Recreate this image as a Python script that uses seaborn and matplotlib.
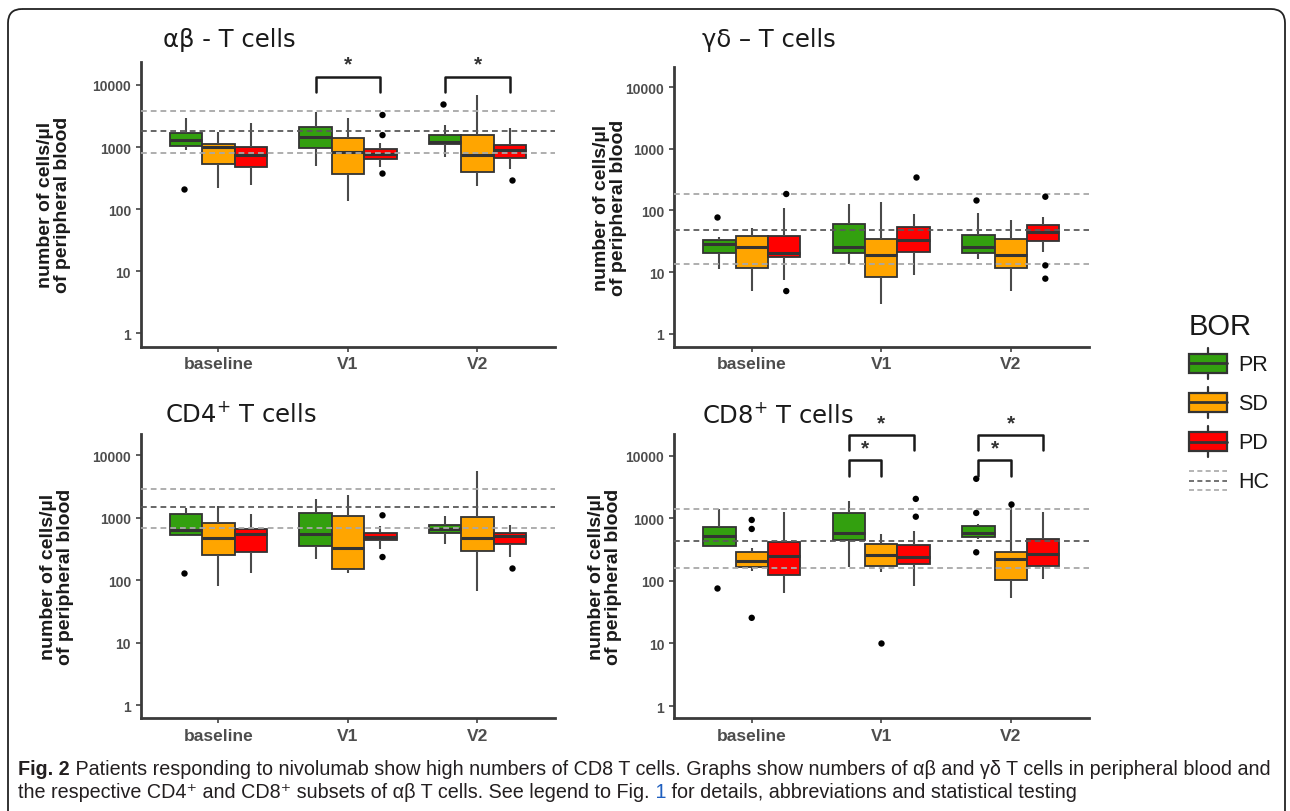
import numpy as np
import pandas as pd
import seaborn as sns
import matplotlib
matplotlib.use("Agg")
import matplotlib.pyplot as plt
from matplotlib.patches import Patch, Rectangle, FancyBboxPatch
from matplotlib.lines import Line2D
from matplotlib.legend_handler import HandlerBase
from matplotlib.ticker import FixedLocator, FixedFormatter, NullLocator

# ---------------- data ----------------
TIMES = ["baseline", "V1", "V2"]
GROUPS = ["PR", "SD", "PD"]
GROUP_COLORS = ["#33A00F", "#FFA500", "#FF0000"]
Y_TICKS = [1, 10, 100, 1000, 10000]
Y_TICK_LABELS = ["1", "10", "100", "1000", "10000"]
HC_LINE_COLORS = ["#a8a8a8", "#5a5a5a", "#a8a8a8"]

# box stats per time point (baseline, V1, V2): [low whisker, Q1, median, Q3, high whisker]
AB_PR = [[900, 1050, 1300, 1710, 2910], [500, 950, 1470, 2130, 3730], [700, 1120, 1220, 1560, 2270]]
AB_SD = [[220, 525, 1000, 1120, 1770], [134, 366, 840, 1380, 2910], [237, 400, 740, 1560, 6920]]
AB_PD = [[250, 480, 760, 1010, 2470], [480, 640, 770, 930, 1150], [452, 680, 895, 1080, 2000]]
AB_OUT_TIME = ["baseline", "V1", "V1", "V1", "V2", "V2"]
AB_OUT_GROUP = ["PR", "PD", "PD", "PD", "PR", "PD"]
AB_OUT_VALUE = [210, 3290, 1560, 375, 4960, 300]
AB_HC = [3840, 1820, 790]

GD_PR = [[11, 20, 29, 33, 37], [13.7, 20, 25.6, 61, 127], [16, 20, 25.6, 40.6, 92]]
GD_SD = [[5, 11.6, 25.6, 38.6, 52], [3.05, 8.3, 18.7, 35, 135], [5, 11.6, 18.7, 34, 70]]
GD_PD = [[7.3, 17.6, 20.7, 38, 110], [9, 21, 33, 54, 87], [21, 32, 45, 59, 79]]
GD_OUT_TIME = ["baseline", "baseline", "baseline", "V1", "V2", "V2", "V2", "V2"]
GD_OUT_GROUP = ["PR", "PD", "PD", "PD", "PR", "PD", "PD", "PD"]
GD_OUT_VALUE = [79, 185, 4.9, 354, 147, 167, 12.8, 7.8]
GD_HC = [185, 49, 13.7]

CD4_PR = [[500, 528, 640, 1130, 1445], [215, 352, 540, 1200, 2010], [374, 561, 650, 754, 1060]]
CD4_SD = [[81, 253, 467, 810, 1540], [129, 149, 331, 1060, 2270], [67, 293, 467, 1037, 5580]]
CD4_PD = [[132, 282, 540, 650, 1160], [319, 439, 497, 561, 736], [238, 384, 509, 575, 754]]
CD4_OUT_TIME = ["baseline", "V1", "V1", "V2"]
CD4_OUT_GROUP = ["PR", "PD", "PD", "PD"]
CD4_OUT_VALUE = [129, 1090, 235, 158]
CD4_HC = [2840, 1480, 690]

CD8_PR = [[366, 366, 528, 736, 1410], [164, 456, 575, 1217, 1920], [470, 497, 582, 745, 800]]
CD8_SD = [[146, 169, 210, 293, 330], [137, 175, 263, 388, 562], [52.5, 104, 224, 293, 1600]]
CD8_PD = [[64, 124, 253, 413, 1280], [84, 186, 238, 374, 635], [107, 171, 269, 467, 1280]]
CD8_OUT_TIME = ["baseline", "baseline", "baseline", "baseline", "V1", "V1", "V1", "V2", "V2", "V2", "V2"]
CD8_OUT_GROUP = ["PR", "SD", "SD", "SD", "SD", "PD", "PD", "PR", "PR", "PR", "SD"]
CD8_OUT_VALUE = [77, 940, 675, 25.7, 10, 2040, 1060, 4270, 1217, 286, 1720]
CD8_HC = [1410, 440, 160]

# significance brackets: (time, group A, group B, bar level, leg end, star level)
AB_BRACKETS = [("V1", "PR", "PD", 13400, 7600, 24000), ("V2", "PR", "PD", 13400, 7600, 24000)]
CD8_BRACKETS = [("V1", "PR", "PD", 21000, 12100, 36500), ("V1", "PR", "SD", 8580, 4700, 14560),
                ("V2", "PR", "PD", 21000, 12100, 36500), ("V2", "PR", "SD", 8580, 4700, 14560)]

TITLES = ["αβ - T cells", "γδ – T cells", r"CD4$^{+}$ T cells", r"CD8$^{+}$ T cells"]
YLABEL = "number of cells/µl\nof peripheral blood"

CAPTION_BOLD = "Fig. 2"
CAPTION_L1 = " Patients responding to nivolumab show high numbers of CD8 T cells. Graphs show numbers of αβ and γδ T cells in peripheral blood and"
CAPTION_L2A = "the respective CD4⁺ and CD8⁺ subsets of αβ T cells. See legend to Fig."
CAPTION_L2B = " 1"
CAPTION_L2C = " for details, abbreviations and statistical testing"

# ---------------- style ----------------
W, H = 1290, 812
EDGE = "#333333"
WHISK = "#4a4a4a"
TXT = "#1a1a1a"
TICKC = "#4d4d4d"
BOX_WIDTH = 0.75

sns.set_theme(style="white")
plt.rcParams["font.family"] = ["Liberation Sans", "DejaVu Sans"]
plt.rcParams["mathtext.fontset"] = "dejavusans"

fig = plt.figure(figsize=(W / 100, H / 100), dpi=100)
fig.patch.set_facecolor("white")

# overlay axes in pixel coordinates (top-down) for caption, titles, legend, frame
cap_ax = fig.add_axes([0, 0, 1, 1], zorder=-1)
cap_ax.set_xlim(0, W)
cap_ax.set_ylim(H, 0)
cap_ax.axis("off")


def px_axes(l, t, r, b):
    return fig.add_axes([l / W, 1 - b / H, (r - l) / W, (b - t) / H])


def long_box_df(pr, sd, pd_):
    rows = []
    for g, stats in zip(GROUPS, [pr, sd, pd_]):
        for t, vals in zip(TIMES, stats):
            for v in vals:
                rows.append((t, g, v))
    return pd.DataFrame(rows, columns=["time", "BOR", "value"])


palette = dict(zip(GROUPS, GROUP_COLORS))
offsets = {g: (i - 1) * BOX_WIDTH / 3 for i, g in enumerate(GROUPS)}

panels = [
    dict(rect=(140.7, 63, 555.2, 347.5), ylim=(10 ** -0.21, 10 ** 4.37), title_xy=(163, 47),
         ylab_x=54, box=(AB_PR, AB_SD, AB_PD),
         out=(AB_OUT_TIME, AB_OUT_GROUP, AB_OUT_VALUE), hc=AB_HC, br=AB_BRACKETS),
    dict(rect=(674, 68, 1088.5, 347.5), ylim=(10 ** -0.21, 10 ** 4.33), title_xy=(702, 47),
         ylab_x=610, box=(GD_PR, GD_SD, GD_PD),
         out=(GD_OUT_TIME, GD_OUT_GROUP, GD_OUT_VALUE), hc=GD_HC, br=[]),
    dict(rect=(140.7, 435, 555.2, 719), ylim=(10 ** -0.2, 10 ** 4.336), title_xy=(165, 422.5),
         ylab_x=57, box=(CD4_PR, CD4_SD, CD4_PD),
         out=(CD4_OUT_TIME, CD4_OUT_GROUP, CD4_OUT_VALUE), hc=CD4_HC, br=[]),
    dict(rect=(674, 435, 1088.5, 719), ylim=(10 ** -0.19, 10 ** 4.346), title_xy=(702, 423),
         ylab_x=605, box=(CD8_PR, CD8_SD, CD8_PD),
         out=(CD8_OUT_TIME, CD8_OUT_GROUP, CD8_OUT_VALUE), hc=CD8_HC, br=CD8_BRACKETS),
]

for p, title in zip(panels, TITLES):
    l, t, r, b = p["rect"]
    ax = px_axes(l, t, r, b)
    df = long_box_df(*p["box"])
    sns.boxplot(data=df, x="time", y="value", hue="BOR", order=TIMES, hue_order=GROUPS,
                palette=palette, saturation=1, width=BOX_WIDTH, gap=0, whis=(0, 100),
                showfliers=False, linecolor=EDGE, linewidth=1.3, log_scale=True, legend=False, ax=ax,
                medianprops=dict(color=EDGE, linewidth=2.2),
                whiskerprops=dict(color=WHISK, linewidth=1.5),
                capprops=dict(linewidth=0))
    otime, ogroup, oval = p["out"]
    odf = pd.DataFrame({"time": otime, "BOR": ogroup, "value": oval})
    sns.stripplot(data=odf, x="time", y="value", hue="BOR", order=TIMES, hue_order=GROUPS,
                  palette={g: "black" for g in GROUPS}, dodge=True, jitter=False, size=4.6,
                  linewidth=0, log_scale=True, legend=False, ax=ax, zorder=4)
    for v, c in zip(p["hc"], HC_LINE_COLORS):
        ax.axhline(v, color=c, lw=1.3, ls=(0, (3.2, 2.2)), zorder=3)
    for (tm, g1, g2, bar, leg, star) in p["br"]:
        xi = TIMES.index(tm)
        x1, x2 = xi + offsets[g1], xi + offsets[g2]
        ax.plot([x1, x1, x2, x2], [leg, bar, bar, leg], color=TXT, lw=1.8, clip_on=False, zorder=5)
        ax.annotate("*", xy=((x1 + x2) / 2, star), xytext=(0, -8), textcoords="offset pixels",
                    ha="center", va="baseline", fontsize=15, fontweight="bold", color="#333333",
                    annotation_clip=False)

    ax.set_xlim(-0.6, 2.6)
    ax.set_ylim(*p["ylim"])
    ax.yaxis.set_major_locator(FixedLocator(Y_TICKS))
    ax.yaxis.set_major_formatter(FixedFormatter(Y_TICK_LABELS))
    ax.yaxis.set_minor_locator(NullLocator())
    ax.set_xticks(range(len(TIMES)))
    ax.set_xticklabels(TIMES)
    for lab in ax.get_yticklabels():
        lab.set_fontsize(10)
        lab.set_fontweight("bold")
        lab.set_color(TICKC)
    for lab in ax.get_xticklabels():
        lab.set_fontsize(12.5)
        lab.set_fontweight("bold")
        lab.set_color(TICKC)
    ax.tick_params(axis="both", which="major", length=3.5, width=1.1, color=EDGE, pad=3.5,
                   left=True, bottom=True)
    for s in ["top", "right"]:
        ax.spines[s].set_visible(False)
    for s in ["left", "bottom"]:
        ax.spines[s].set_color("#3a3a3a")
        ax.spines[s].set_linewidth(2.0)
    ax.set_xlabel("")
    ax.set_ylabel(YLABEL, fontsize=14, fontweight="bold", color=TXT, linespacing=1.05)
    ax.yaxis.label.set_va("center")
    ax.yaxis.set_label_coords((p["ylab_x"] - l) / (r - l), 0.5)
    ax.set_facecolor("white")

    tx, ty = p["title_xy"]
    cap_ax.text(tx, ty, title, fontsize=17.5, family=["DejaVu Sans"], color=TXT, va="baseline", ha="left")


# ---------------- legend ----------------
class BoxKey(HandlerBase):
    def create_artists(self, legend, orig_handle, xdescent, ydescent, width, height, fontsize, trans):
        x0, y0 = -xdescent, -ydescent
        bh = 0.6 * height
        by = y0 + 0.2 * height
        xm = x0 + width / 2
        wk = Line2D([xm, xm], [y0, y0 + height], color=EDGE, lw=1.6, transform=trans)
        rc = Rectangle((x0, by), width, bh, facecolor=orig_handle.get_facecolor(), edgecolor=EDGE,
                       lw=1.6, transform=trans)
        md = Line2D([x0, x0 + width], [by + bh / 2] * 2, color=EDGE, lw=2.0, transform=trans)
        return [wk, rc, md]


class HCKey(HandlerBase):
    def create_artists(self, legend, orig_handle, xdescent, ydescent, width, height, fontsize, trans):
        x0, y0 = -xdescent, -ydescent
        arts = []
        for frac, c in zip([0.79, 0.5, 0.21], HC_LINE_COLORS):
            arts.append(Line2D([x0, x0 + width], [y0 + frac * height] * 2, color=c, lw=1.2,
                               ls=(0, (3, 2)), transform=trans))
        return arts


handles = [Patch(facecolor=c) for c in GROUP_COLORS] + [Line2D([], [])]
labels = GROUPS + ["HC"]
leg = cap_ax.legend(handles, labels, title="BOR", loc="upper left", bbox_to_anchor=(1189, 313),
                    bbox_transform=cap_ax.transData, frameon=False, fontsize=15.5, title_fontsize=21,
                    handlelength=1.77, handleheight=1.86, labelspacing=0.36, handletextpad=0.51,
                    borderpad=0, borderaxespad=0, alignment="left",
                    handler_map={Patch: BoxKey(), Line2D: HCKey()})
for tt in leg.get_texts():
    tt.set_color(TXT)
leg.get_title().set_color(TXT)

# ---------------- frame & caption ----------------
frame = FancyBboxPatch((8, 10), 1277, 840, boxstyle="round,pad=0,rounding_size=14",
                       fill=False, edgecolor="#222222", lw=1.3)
cap_ax.add_patch(frame)

CAP_FS = 14.2
CAP_C = "#231f20"
t1 = cap_ax.text(18, 775, CAPTION_BOLD, fontsize=CAP_FS, fontweight="bold", color=CAP_C, va="baseline")
cap_ax.annotate(CAPTION_L1, xy=(1, 0), xycoords=t1, va="bottom", ha="left", fontsize=CAP_FS, color=CAP_C)
l2a = cap_ax.text(18, 798.5, CAPTION_L2A, fontsize=CAP_FS, color=CAP_C, va="baseline")
l2b = cap_ax.annotate(CAPTION_L2B, xy=(1, 0), xycoords=l2a, va="bottom", ha="left", fontsize=CAP_FS,
                      color="#1f5fbf")
cap_ax.annotate(CAPTION_L2C, xy=(1, 0), xycoords=l2b, va="bottom", ha="left", fontsize=CAP_FS, color=CAP_C)

fig.savefig("out.png", dpi=100, facecolor="white")
